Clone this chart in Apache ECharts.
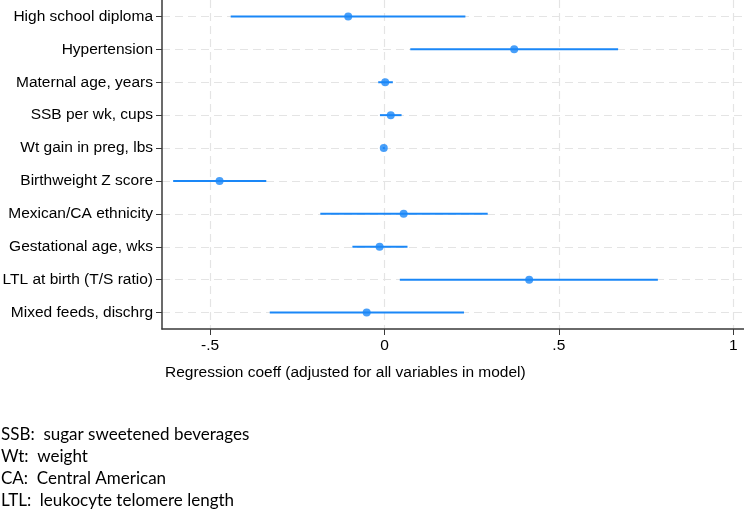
<!DOCTYPE html>
<html>
<head>
<meta charset="utf-8">
<script src="https://cdn.jsdelivr.net/npm/echarts@6/dist/echarts.min.js"></script>
<style>
html,body{margin:0;padding:0;background:#fff;}
#chart{width:744px;height:512px;}
</style>
</head>
<body>
<div id="chart"></div>
<script>
const categories = [
  'High school diploma',
  'Hypertension',
  'Maternal age, years',
  'SSB per wk, cups',
  'Wt gain in preg, lbs',
  'Birthweight Z score',
  'Mexican/CA ethnicity',
  'Gestational age, wks',
  'LTL at birth (T/S ratio)',
  'Mixed feeds, dischrg'
];
const coefs  = [-0.104, 0.372, 0.002, 0.018, -0.002, -0.473, 0.055, -0.014, 0.415, -0.051];
const ciLow  = [-0.441, 0.074, -0.018, -0.013, -0.005, -0.606, -0.184, -0.092, 0.044, -0.329];
const ciHigh = [0.232, 0.670, 0.024, 0.049, 0.001, -0.339, 0.296, 0.066, 0.784, 0.228];
const xTicks = [-0.5, 0, 0.5, 1];
const xTickLabels = ['-.5', '0', '.5', '1'];
const xTitle = 'Regression coeff (adjusted for all variables in model)';
const footnotes = [
  'SSB:  sugar sweetened beverages',
  'Wt:  weight',
  'CA:  Central American',
  'LTL:  leukocyte telomere length'
];

const BLUE = '#1a87f7';
const AXIS = '#3a3a3a';
const GRID = '#e4e4e4';
const FONT = 'Liberation Sans, Arial, Helvetica, sans-serif';
const catIdx = categories.map((c, i) => i);

const chart = echarts.init(document.getElementById('chart'), null, {renderer: 'canvas'});
const option = {
  animation: false,
  backgroundColor: '#fff',
  grid: {left: 162, right: 0, top: 0, bottom: 183, outerBoundsMode: 'none'},
  xAxis: {
    type: 'value',
    min: -0.638,
    max: 1.031,
    axisLine: {show: true, onZero: false, lineStyle: {color: AXIS, width: 1.5}},
    axisTick: {show: true, customValues: xTicks, length: 6, lineStyle: {color: AXIS}},
    axisLabel: {
      customValues: xTicks,
      formatter: v => xTickLabels[xTicks.indexOf(Math.round(v * 10) / 10)] ?? '',
      color: '#000', fontSize: 15.5, fontFamily: FONT, margin: 9
    },
    splitLine: {show: true, lineStyle: {color: GRID, type: [8, 5], width: 1.2}}
  },
  yAxis: {
    type: 'value',
    inverse: true,
    min: -0.5,
    max: 9.5,
    axisLine: {show: true, onZero: false, lineStyle: {color: AXIS, width: 1.5}},
    axisTick: {show: true, customValues: catIdx, length: 6, lineStyle: {color: AXIS}},
    axisLabel: {
      customValues: catIdx,
      formatter: v => categories[Math.round(v)] ?? '',
      color: '#000', fontSize: 15.5, fontFamily: FONT, margin: 9
    },
    splitLine: {show: true, lineStyle: {color: GRID, type: [8, 5], width: 1.2}}
  },
  series: [
    {
      type: 'custom',
      data: categories.map((c, i) => [ciLow[i], ciHigh[i], i]),
      encode: {x: [0, 1], y: 2},
      renderItem: function (params, api) {
        const lo = api.coord([api.value(0), api.value(2)]);
        const hi = api.coord([api.value(1), api.value(2)]);
        return {
          type: 'line',
          shape: {x1: lo[0], y1: lo[1], x2: hi[0], y2: hi[1]},
          style: {stroke: BLUE, lineWidth: 2}
        };
      },
      z: 3
    },
    {
      type: 'scatter',
      data: coefs.map((v, i) => [v, i]),
      symbol: 'circle',
      symbolSize: 8,
      itemStyle: {color: BLUE},
      z: 4
    }
  ],
  graphic: [
    {
      type: 'text', left: 165, top: 365,
      style: {text: xTitle, fill: '#000', font: '15.5px ' + FONT}
    }
  ].concat(footnotes.map((t, i) => ({
    type: 'text', left: 1, top: 426 + i * 22,
    style: {text: t, fill: '#000', font: '17px Lato, "Open Sans", sans-serif'}
  })))
};
chart.setOption(option);
</script>
</body>
</html>
